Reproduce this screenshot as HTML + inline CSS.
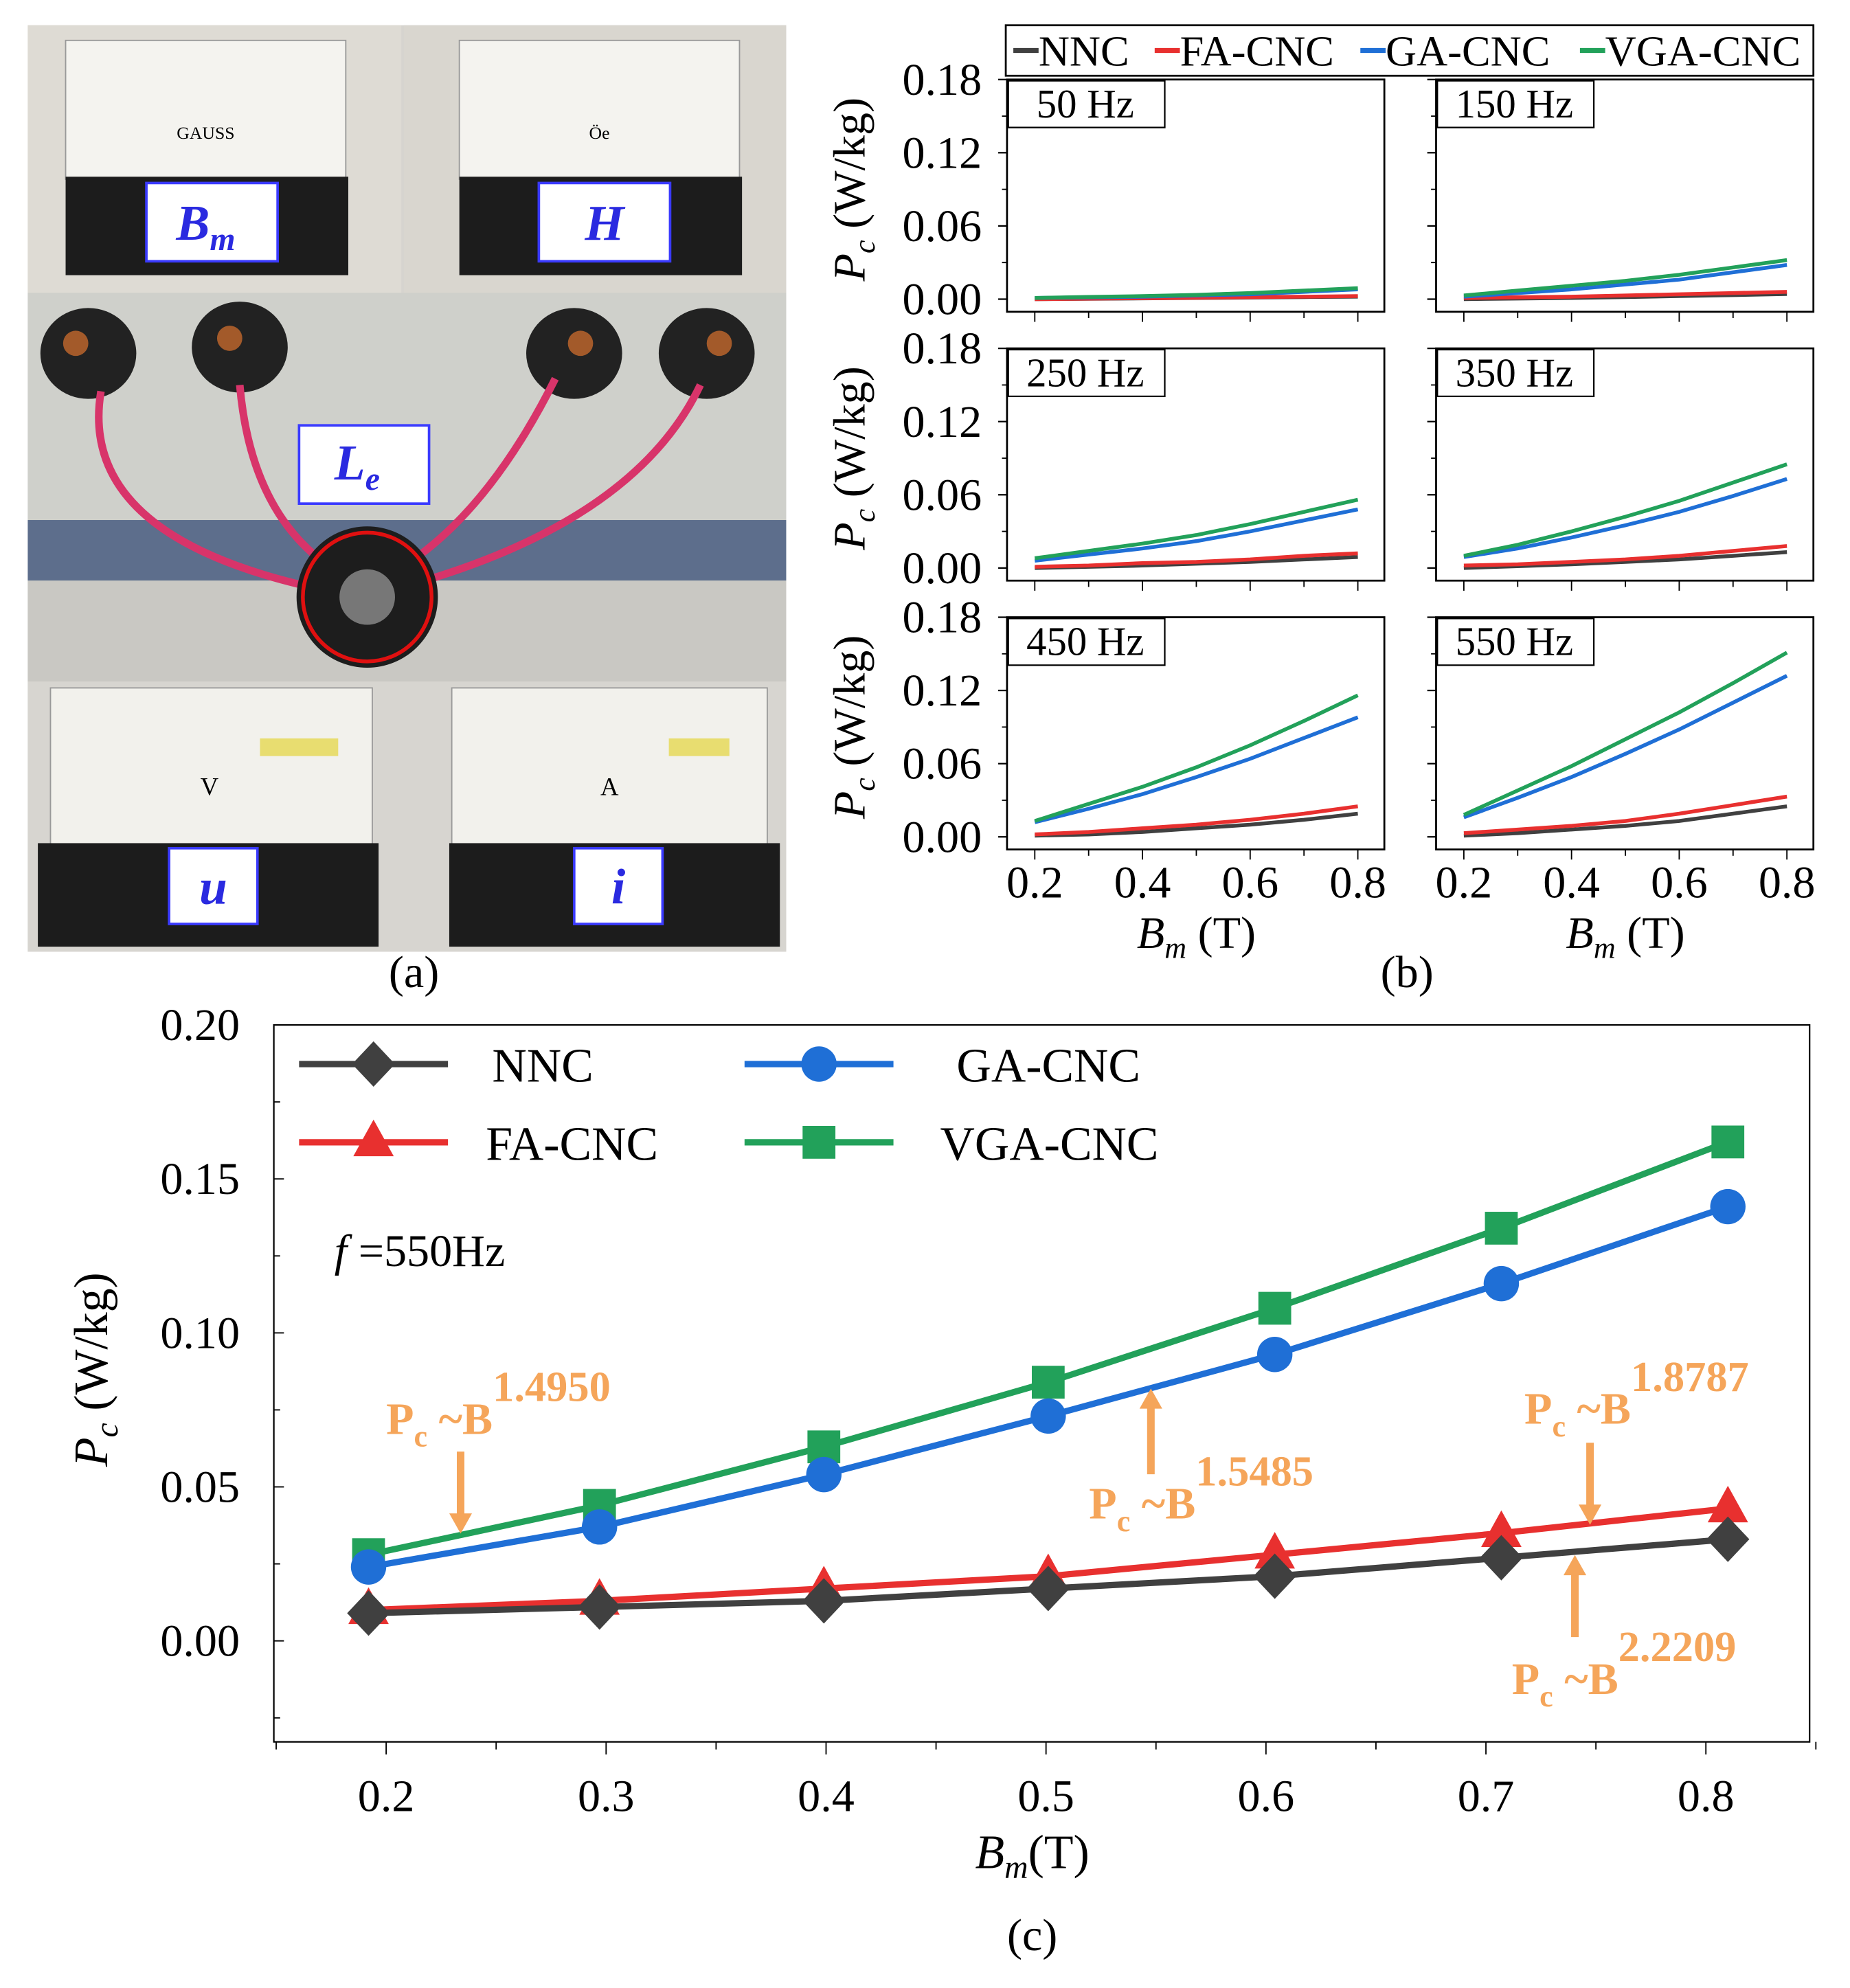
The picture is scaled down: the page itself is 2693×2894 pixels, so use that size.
<!DOCTYPE html>
<html><head><meta charset="utf-8"><style>
html,body{margin:0;padding:0;background:#fff}
svg{display:block}
text{font-family:"Liberation Serif",serif}
</style></head><body>
<svg id="fig" xmlns="http://www.w3.org/2000/svg" width="2693" height="2894" viewBox="0 0 1466 1575" preserveAspectRatio="none">
<!-- (a) photo approximation -->
<g>
<rect x="22" y="20" width="601" height="734" fill="#d6d4cf"/>
<rect x="22" y="20" width="296" height="212" fill="#dedbd4"/>
<rect x="320" y="20" width="303" height="212" fill="#d9d6cf"/>
<rect x="52" y="32" width="222" height="110" fill="#f4f3ef" stroke="#999"/>
<rect x="364" y="32" width="222" height="110" fill="#f4f3ef" stroke="#999"/>
<rect x="52" y="140" width="224" height="78" fill="#1c1c1c"/>
<rect x="364" y="140" width="224" height="78" fill="#1c1c1c"/>
<text x="163" y="110" font-size="14" text-anchor="middle" font-family="Liberation Sans">GAUSS</text>
<text x="475" y="110" font-size="14" text-anchor="middle" font-family="Liberation Sans">Öe</text>
<rect x="22" y="232" width="601" height="180" fill="#cfd0cb"/>
<rect x="22" y="412" width="601" height="48" fill="#5d6e8c"/>
<rect x="22" y="460" width="601" height="80" fill="#c9c8c3"/>
<g fill="#222">
<ellipse cx="70" cy="280" rx="38" ry="36"/><ellipse cx="190" cy="275" rx="38" ry="36"/><ellipse cx="455" cy="280" rx="38" ry="36"/><ellipse cx="560" cy="280" rx="38" ry="36"/>
</g>
<g fill="#a35a2a"><circle cx="60" cy="272" r="10"/><circle cx="182" cy="268" r="10"/><circle cx="460" cy="272" r="10"/><circle cx="570" cy="272" r="10"/></g>
<g stroke="#d8346a" stroke-width="6" fill="none">
<path d="M80 310 Q60 430 270 470"/><path d="M190 305 Q200 420 280 460"/><path d="M440 300 Q380 420 300 460"/><path d="M555 305 Q500 420 300 470"/>
</g>
<circle cx="291" cy="473" r="56" fill="#1d1d1d"/><circle cx="291" cy="473" r="22" fill="#777"/>
<circle cx="291" cy="473" r="51" fill="none" stroke="#e01010" stroke-width="3"/>
<rect x="22" y="540" width="601" height="214" fill="#d7d5d0"/>
<rect x="40" y="545" width="255" height="125" fill="#f2f1ec" stroke="#999"/>
<rect x="358" y="545" width="250" height="125" fill="#f2f1ec" stroke="#999"/>
<rect x="206" y="585" width="62" height="14" fill="#e8dd70"/><rect x="530" y="585" width="48" height="14" fill="#e8dd70"/>
<rect x="30" y="668" width="270" height="82" fill="#1c1c1c"/>
<rect x="356" y="668" width="262" height="82" fill="#1c1c1c"/>
<text x="166" y="630" font-size="20" text-anchor="middle" font-family="Liberation Sans">V</text>
<text x="483" y="630" font-size="20" text-anchor="middle" font-family="Liberation Sans">A</text>
<g fill="#fff" stroke="#3a3aff" stroke-width="2">
<rect x="116" y="145" width="104" height="62"/><rect x="427" y="145" width="104" height="62"/>
<rect x="237" y="337" width="103" height="62"/><rect x="134" y="672" width="70" height="60"/><rect x="455" y="672" width="70" height="60"/>
</g>
<g fill="#2a2ae0" font-weight="bold" font-style="italic" font-size="40" text-anchor="middle">
<text x="163" y="190">B<tspan font-size="26" dy="8">m</tspan></text>
<text x="479" y="190">H</text>
<text x="283" y="380">L<tspan font-size="26" dy="8">e</tspan></text>
<text x="169" y="716">u</text>
<text x="490" y="716">i</text>
</g>
</g>
<text x="328" y="782" font-size="36" text-anchor="middle">(a)</text>
<text x="1115" y="782" font-size="36" text-anchor="middle">(b)</text>
<text x="818" y="1545" font-size="36" text-anchor="middle">(c)</text>
<g id="panelB"></g>
<g id="panelC"></g>
</svg>
<script>
const NS="http://www.w3.org/2000/svg";
const colors=["#404040","#e8302f","#1f6fd6","#22a15a"];
const seriesNames=["NNC","FA-CNC","GA-CNC","VGA-CNC"];
const bX=[0.2,0.3,0.4,0.5,0.6,0.7,0.8];
const freqs=["50 Hz","150 Hz","250 Hz","350 Hz","450 Hz","550 Hz"];
const nnc=[[0,0.0003,0.0006,0.001,0.0013,0.0017,0.002],[0,0.0005,0.001,0.0017,0.0025,0.0033,0.0042],[0,0.001,0.002,0.0035,0.005,0.007,0.009],[0,0.0015,0.003,0.005,0.007,0.010,0.013],[0.001,0.002,0.004,0.007,0.010,0.014,0.019],[0.001,0.003,0.006,0.009,0.013,0.019,0.025]];
const fa=[[0,0.0004,0.0008,0.0012,0.0016,0.002,0.0025],[0.001,0.0015,0.002,0.003,0.004,0.005,0.006],[0.001,0.002,0.004,0.005,0.007,0.010,0.012],[0.002,0.003,0.005,0.007,0.010,0.014,0.018],[0.002,0.004,0.007,0.010,0.014,0.019,0.025],[0.003,0.006,0.009,0.013,0.019,0.026,0.033]];
const ga=[[0.001,0.0015,0.002,0.003,0.004,0.006,0.008],[0.002,0.005,0.008,0.012,0.016,0.022,0.028],[0.006,0.011,0.016,0.022,0.030,0.039,0.048],[0.009,0.016,0.025,0.035,0.046,0.059,0.073],[0.012,0.023,0.035,0.049,0.064,0.081,0.098],[0.016,0.032,0.049,0.068,0.088,0.110,0.132]];
const vga=[[0.001,0.0018,0.0025,0.0035,0.005,0.007,0.009],[0.003,0.007,0.011,0.015,0.020,0.026,0.032],[0.008,0.014,0.020,0.027,0.036,0.046,0.056],[0.010,0.019,0.030,0.042,0.055,0.070,0.085],[0.013,0.027,0.041,0.057,0.075,0.095,0.116],[0.018,0.038,0.058,0.080,0.102,0.126,0.151]];
const bTicks=[0,0.06,0.12,0.18];
const bTickLabels=["0.00","0.06","0.12","0.18"];
const bXTicks=[0.2,0.4,0.6,0.8];
// panel c
const cX=[0.192,0.297,0.399,0.501,0.604,0.707,0.810];
const cNNC=[0.009,0.011,0.013,0.017,0.021,0.027,0.033];
const cFA=[0.010,0.013,0.017,0.021,0.028,0.035,0.043];
const cGA=[0.024,0.037,0.054,0.073,0.093,0.116,0.141];
const cVGA=[0.028,0.044,0.063,0.084,0.108,0.134,0.162];
const cYTicks=[0,0.05,0.10,0.15,0.20];
const cYLabels=["0.00","0.05","0.10","0.15","0.20"];
const cXTicks=[0.2,0.3,0.4,0.5,0.6,0.7,0.8];
const cXLabels=["0.2","0.3","0.4","0.5","0.6","0.7","0.8"];

function mk(tag,attrs,parent,txt){const e=document.createElementNS(NS,tag);for(const k in attrs)e.setAttribute(k,attrs[k]);if(txt!==undefined)e.textContent=txt;parent.appendChild(e);return e;}

// ---- Panel b
const pb=document.getElementById('panelB');
const leg=mk('rect',{x:797,y:20,width:640,height:40,fill:'#fff',stroke:'#000','stroke-width':1.5},pb);


const legX=[803,915,1078,1252];
seriesNames.forEach((n,i)=>{
  const l=mk('line',{x1:legX[i],x2:legX[i]+20,y1:40,y2:40,stroke:colors[i],'stroke-width':4},pb);
  
  
  const t=mk('text',{x:legX[i]+20,y:52,'font-size':34},pb,n);
  
  
});
const colX=[798,1138], rowY=[63,276,489];
const dataSets=[nnc,fa,ga,vga];
for(let p=0;p<6;p++){
  const c=p%2,r=Math.floor(p/2);
  const L=colX[c],R=L+299,T=rowY[r],Y0=T+174,B=Y0+10;
  const xs=v=>L+22+(v-0.2)/0.6*256;
  const ys=v=>Y0-v/0.18*174;
  const g=mk('g',{},pb);
  
  
  mk('rect',{x:L,y:T,width:299,height:B-T,fill:'none',stroke:'#000','stroke-width':1.5},g);
  bTicks.forEach((t,i)=>{
    mk('line',{x1:L-7,x2:L,y1:ys(t),y2:ys(t),stroke:'#000','stroke-width':1.2},g);
    if(i<3) mk('line',{x1:L-4,x2:L,y1:ys(t+0.03),y2:ys(t+0.03),stroke:'#000'},g);
    if(c===0){const tl=mk('text',{x:L-20,y:ys(t)+12,'font-size':36,'text-anchor':'end'},g,bTickLabels[i]);
      
      }
  });
  if(c===1){bTicks.forEach((t,i)=>{const tl=mk('text',{x:1118,y:ys(t)+12,'font-size':36,'text-anchor':'end',fill:'#000'},g,'');});}
  for(let v=0.2;v<=0.801;v+=0.1){mk('line',{x1:xs(v),x2:xs(v),y1:B,y2:B+(Math.round(v*10)%2===0?8:5),stroke:'#000'},g);}
  if(r===2) bXTicks.forEach(v=>{const tl=mk('text',{x:xs(v),y:B+38,'font-size':36,'text-anchor':'middle'},g,v.toFixed(1));
    
    });
  const fb=mk('rect',{x:L+1,y:T+1,width:124,height:37,fill:'#fff',stroke:'#000','stroke-width':1.2},g);
  const ft=mk('text',{x:L+62,y:T+30,'font-size':32,'text-anchor':'middle'},g,freqs[p]);
  
  
  dataSets.forEach((ds,si)=>{
    const pts=bX.map((x,k)=>xs(x)+','+ys(ds[p][k])).join(' ');
    const pl=mk('polyline',{points:pts,fill:'none',stroke:colors[si],'stroke-width':3},g);
    
    
  });
  if(c===0){
    const yl=mk('text',{transform:`translate(${L-113},${T+87}) rotate(-90)`,'font-size':36,'text-anchor':'middle'},g);
    
    
    mk('tspan',{'font-style':'italic'},yl,'P');
    mk('tspan',{'font-style':'italic','font-size':24,dy:8},yl,'c');
    mk('tspan',{dy:-8},yl,' (W/kg)');
  }
  if(r===2){
    const xl=mk('text',{x:L+150,y:B+78,'font-size':36,'text-anchor':'middle'},g);
    
    
    mk('tspan',{'font-style':'italic'},xl,'B');
    mk('tspan',{'font-style':'italic','font-size':24,dy:8},xl,'m');
    mk('tspan',{dy:-8},xl,' (T)');
  }
}

// ---- Panel c
const pc=document.getElementById('panelC');
const cL=217,cR=1434,cT=812,cB=1380;
const cxs=v=>306+(v-0.2)*1743;
const cys=v=>1300-v*2440;
mk('rect',{x:cL,y:cT,width:cR-cL,height:cB-cT,fill:'none',stroke:'#000','stroke-width':1.2},pc);
cYTicks.forEach((t,i)=>{
  mk('line',{x1:cL,x2:cL+8,y1:cys(t),y2:cys(t),stroke:'#000'},pc);
  mk('line',{x1:cL,x2:cL+5,y1:cys(t-0.025),y2:cys(t-0.025),stroke:'#000'},pc);
  const tl=mk('text',{x:cL-27,y:cys(t)+12,'font-size':36,'text-anchor':'end'},pc,cYLabels[i]);
  
  
});
for(let v=0.15;v<=0.851;v+=0.05){mk('line',{x1:cxs(v),x2:cxs(v),y1:cB,y2:cB+(Math.round(v*100)%10===0?10:6),stroke:'#000'},pc);}
cXTicks.forEach((v,i)=>{const tl=mk('text',{x:cxs(v),y:cB+55,'font-size':36,'text-anchor':'middle'},pc,cXLabels[i]);
  
  });
const cyl=mk('text',{transform:'translate(85,1085) rotate(-90)','font-size':38,'text-anchor':'middle'},pc);


mk('tspan',{'font-style':'italic'},cyl,'P');mk('tspan',{'font-style':'italic','font-size':26,dy:8},cyl,'c');mk('tspan',{dy:-8},cyl,'  (W/kg)');
const cxl=mk('text',{x:818,y:1480,'font-size':38,'text-anchor':'middle'},pc);


mk('tspan',{'font-style':'italic'},cxl,'B');mk('tspan',{'font-style':'italic','font-size':26,dy:8},cxl,'m');mk('tspan',{dy:-8},cxl,'(T)');

function marker(type,x,y,col,parent){
  if(type==='diamond') return mk('polygon',{points:`${x},${y-18} ${x+17},${y} ${x},${y+18} ${x-17},${y}`,fill:col},parent);
  if(type==='tri') return mk('polygon',{points:`${x},${y-18} ${x+16},${y+11} ${x-16},${y+11}`,fill:col},parent);
  if(type==='circle') return mk('circle',{cx:x,cy:y,r:14,fill:col},parent);
  return mk('rect',{x:x-13,y:y-13,width:26,height:26,fill:col},parent);
}
const cSeries=[[cNNC,'diamond'],[cFA,'tri'],[cVGA,'square'],[cGA,'circle']];
const cCol={diamond:colors[0],tri:colors[1],circle:colors[2],square:colors[3]};
const cNm={diamond:'nnc',tri:'fa-cnc',circle:'ga-cnc',square:'vga-cnc'};
[[cFA,'tri'],[cNNC,'diamond'],[cVGA,'square'],[cGA,'circle']].forEach(([d,m])=>{
  const g=mk('g',{},pc);
  
  
  mk('polyline',{points:cX.map((x,k)=>cxs(x)+','+cys(d[k])).join(' '),fill:'none',stroke:cCol[m],'stroke-width':5},g);
  cX.forEach((x,k)=>{const mm=marker(m,cxs(x),cys(d[k]),cCol[m],g);
    
    });
});
// legend c
const legC=[[237,843,'diamond','NNC',390],[237,905,'tri','FA-CNC',385],[590,843,'circle','GA-CNC',758],[590,905,'square','VGA-CNC',745]];
legC.forEach(([x,y,m,n,tx])=>{
  const g=mk('g',{},pc);
  
  
  mk('line',{x1:x,x2:x+118,y1:y,y2:y,stroke:cCol[m],'stroke-width':5},g);
  marker(m,x+59,y,cCol[m],g);
  mk('text',{x:tx,y:y+14,'font-size':38},g,n);
});
const ft=mk('text',{x:265,y:1003,'font-size':36},pc);


mk('tspan',{'font-style':'italic'},ft,'f');mk('tspan',{},ft,' =550Hz');
// annotations
const org='#f5a55a';
function ann(x,y,exp,nm){
  const t=mk('text',{x:x,y:y,'font-size':36,'font-weight':'bold',fill:org},pc);
  
  
  mk('tspan',{},t,'P');mk('tspan',{'font-size':24,dy:10},t,'c');mk('tspan',{dy:-10},t,' ~B');mk('tspan',{dy:-26,'font-size':34},t,exp);
}
function arrow(x,y1,y2){
  const dir=y2>y1?1:-1;
  mk('line',{x1:x,x2:x,y1:y1,y2:y2-dir*14,stroke:org,'stroke-width':6},pc);
  mk('polygon',{points:`${x-9},${y2-dir*16} ${x+9},${y2-dir*16} ${x},${y2}`,fill:org},pc);
}
ann(306,1136,'1.4950','annotation-1-4950');arrow(365,1150,1215);
ann(863,1203,'1.5485','annotation-1-5485');arrow(912,1168,1100);
ann(1208,1128,'1.8787','annotation-1-8787');arrow(1260,1143,1208);
ann(1198,1342,'2.2209','annotation-2-2209');arrow(1248,1297,1232);
</script>
</body></html>
